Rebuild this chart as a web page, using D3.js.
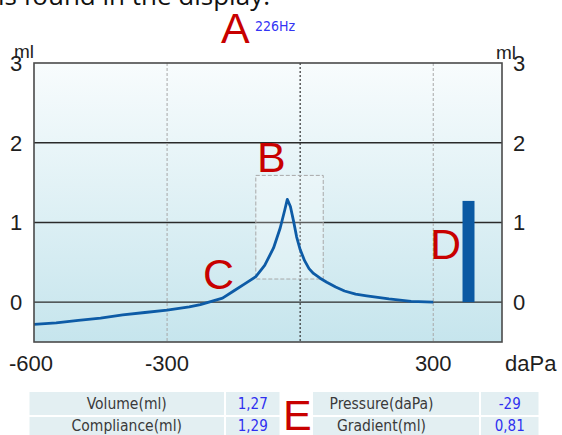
<!DOCTYPE html>
<html>
<head>
<meta charset="utf-8">
<title>Tympanogram 226Hz</title>
<script src="https://cdn.jsdelivr.net/npm/d3@7"></script>
<style>
  body {margin: 0; background: #fff;}
  svg {display: block;}
  .tick-lbl {font-family: "Liberation Sans", Arial, sans-serif; font-size: 22px; fill: #1e1e1e;}
  .mark {font-family: "Liberation Sans", Arial, sans-serif; font-size: 43px; fill: #c80000;}
  .cell-lbl {font-family: "DejaVu Sans Condensed", "DejaVu Sans", sans-serif; font-size: 15.5px; fill: #3a3a3a;}
  .cell-val {font-family: "DejaVu Sans Condensed", "DejaVu Sans", sans-serif; font-size: 15px; fill: #2f2ff0;}
</style>
</head>
<body>
<svg id="chart" width="562" height="435"></svg>
<script>
// pressure (daPa) / compliance (ml)
var pressures = [-600,-550,-500,-450,-400,-350,-300,-250,-225,-200,-175,-150,-125,-100,-80,-60,-45,-35,-29,-22,-15,-8,0,10,20,30,45,60,80,100,125,150,175,200,250,300];
var compliance = [-0.28,-0.26,-0.23,-0.20,-0.16,-0.13,-0.10,-0.06,-0.03,0.01,0.05,0.14,0.23,0.32,0.46,0.68,0.93,1.15,1.29,1.20,1.02,0.82,0.66,0.52,0.42,0.36,0.30,0.25,0.19,0.14,0.10,0.08,0.06,0.04,0.01,0.00];

var xTicks = [-600, -300, 300];
var yTicks = [0, 1, 2, 3];
var gridY = [0, 1, 2];
var gridDashed = [-300, 300];

// gradient box around the peak (B) and volume bar (D)
var boxPressure = [-100, 52];
var boxCompliance = [0.29, 1.59];
var volumeBarPressure = [366, 393];

var tableLabels = ["Volume(ml)", "Compliance(ml)", "Pressure(daPa)", "Gradient(ml)"];
var tableValues = ["1,27", "1,29", "-29", "0,81"];
var volume = 1.27;

var svg = d3.select("#chart");

var x = d3.scaleLinear().domain([-600, 455]).range([34, 502]);
var y = d3.scaleLinear().domain([-0.5, 3]).range([342, 63]);

// cut-off line of text above the chart
svg.append("text")
  .attr("x", 270).attr("y", 5)
  .attr("text-anchor", "end")
  .style("font-family", "'Open Sans', sans-serif")
  .style("font-size", "26px")
  .style("fill", "#111")
  .text("is found in the display.");

var defs = svg.append("defs");
var grad = defs.append("linearGradient").attr("id", "bg").attr("x1", 0).attr("y1", 0).attr("x2", 0).attr("y2", 1);
grad.append("stop").attr("offset", "0%").attr("stop-color", "#f8fcfd");
grad.append("stop").attr("offset", "100%").attr("stop-color", "#c6e5ed");

svg.append("rect")
  .attr("x", x(-600)).attr("y", y(3))
  .attr("width", x(455) - x(-600)).attr("height", y(-0.5) - y(3))
  .attr("fill", "url(#bg)");

// grid
svg.selectAll(".hgrid").data(gridY).enter().append("line")
  .attr("x1", x(-600)).attr("x2", x(455))
  .attr("y1", function(d){ return y(d); }).attr("y2", function(d){ return y(d); })
  .attr("stroke", "#2a2a2a").attr("stroke-width", 1.4);

svg.selectAll(".vgrid").data(gridDashed).enter().append("line")
  .attr("x1", function(d){ return x(d); }).attr("x2", function(d){ return x(d); })
  .attr("y1", y(3)).attr("y2", y(-0.5))
  .attr("stroke", "#a8a8a8").attr("stroke-width", 1).attr("stroke-dasharray", "3,2");

svg.append("line")
  .attr("x1", x(0)).attr("x2", x(0))
  .attr("y1", y(3)).attr("y2", y(-0.5))
  .attr("stroke", "#333").attr("stroke-width", 1.2).attr("stroke-dasharray", "2,2");

// B box
svg.append("rect")
  .attr("x", x(boxPressure[0])).attr("y", y(boxCompliance[1]))
  .attr("width", x(boxPressure[1]) - x(boxPressure[0]))
  .attr("height", y(boxCompliance[0]) - y(boxCompliance[1]))
  .attr("fill", "rgba(255,255,255,0.25)")
  .attr("stroke", "#a8a8a8").attr("stroke-width", 1).attr("stroke-dasharray", "4,2");

// curve
var pts = pressures.map(function(p, i){ return [p, compliance[i]]; });
svg.append("path")
  .datum(pts)
  .attr("fill", "none")
  .attr("stroke", "#0d5ba6")
  .attr("stroke-width", 2.8)
  .attr("stroke-linejoin", "round")
  .attr("d", d3.line().x(function(d){ return x(d[0]); }).y(function(d){ return y(d[1]); }));

// volume bar
svg.append("rect")
  .attr("x", x(volumeBarPressure[0])).attr("y", y(volume))
  .attr("width", x(volumeBarPressure[1]) - x(volumeBarPressure[0]))
  .attr("height", y(0) - y(volume))
  .attr("fill", "#0b59a3");

// frame
svg.append("rect")
  .attr("x", x(-600)).attr("y", y(3))
  .attr("width", x(455) - x(-600)).attr("height", y(-0.5) - y(3))
  .attr("fill", "none").attr("stroke", "#4a4a4a").attr("stroke-width", 1.6);

// axis labels
svg.selectAll(".ylL").data(yTicks).enter().append("text")
  .attr("class", "tick-lbl")
  .attr("x", 16).attr("y", function(d){ return y(d); })
  .attr("dy", "0.36em").attr("text-anchor", "middle")
  .text(function(d){ return d; });

svg.selectAll(".ylR").data(yTicks).enter().append("text")
  .attr("class", "tick-lbl")
  .attr("x", 519).attr("y", function(d){ return y(d); })
  .attr("dy", "0.36em").attr("text-anchor", "middle")
  .text(function(d){ return d; });

svg.selectAll(".xl").data(xTicks).enter().append("text")
  .attr("class", "tick-lbl")
  .attr("x", function(d){ return d == -600 ? x(d) - 3 : x(d); }).attr("y", 371)
  .attr("text-anchor", "middle")
  .text(function(d){ return d; });

svg.append("text").attr("class", "tick-lbl").attr("x", 505).attr("y", 371).text("daPa");
svg.append("text").attr("class", "tick-lbl").attr("x", 14).attr("y", 58).style("font-size", "19px").text("ml");
svg.append("text").attr("class", "tick-lbl").attr("x", 496).attr("y", 59).style("font-size", "19px").text("ml");

// annotation letters
svg.append("text").attr("class", "mark").attr("x", 221).attr("y", 43).text("A");
svg.append("text").attr("x", 255).attr("y", 31)
  .style("font-family", "'DejaVu Sans Condensed', 'DejaVu Sans', sans-serif")
  .style("font-size", "14px").style("fill", "#3434f4").text("226Hz");
svg.append("text").attr("class", "mark").attr("x", 257).attr("y", 172).text("B");
svg.append("text").attr("class", "mark").attr("x", 203).attr("y", 289).text("C");
svg.append("text").attr("class", "mark").attr("x", 430).attr("y", 259).text("D");

// results table
var cols = [[29.5, 224], [226, 279.5], [284, 479], [481, 538.5]];
var rows = [[392, 415], [417, 440]];
var baselines = [408.5, 430.5];
var tbl = svg.append("g");
[0, 1].forEach(function(half){
  rows.forEach(function(r, ri){
    var k = half * 2 + ri;
    var cl = cols[half * 2], cv = cols[half * 2 + 1];
    tbl.append("rect").attr("x", cl[0]).attr("y", r[0]).attr("width", cl[1] - cl[0]).attr("height", r[1] - r[0]).attr("fill", "#e3eff2");
    tbl.append("rect").attr("x", cv[0]).attr("y", r[0]).attr("width", cv[1] - cv[0]).attr("height", r[1] - r[0]).attr("fill", "#e3eff2");
    tbl.append("text").attr("class", "cell-lbl").attr("x", (cl[0] + cl[1]) / 2).attr("y", baselines[ri])
      .attr("text-anchor", "middle").text(tableLabels[k]);
    tbl.append("text").attr("class", "cell-val").attr("x", (cv[0] + cv[1]) / 2).attr("y", baselines[ri])
      .attr("text-anchor", "middle").text(tableValues[k]);
  });
});
tbl.append("rect").attr("x", 283).attr("y", 392).attr("width", 30).attr("height", 43).attr("fill", "#fff");
svg.append("text").attr("class", "mark").attr("x", 283).attr("y", 430).text("E");
</script>
</body>
</html>
